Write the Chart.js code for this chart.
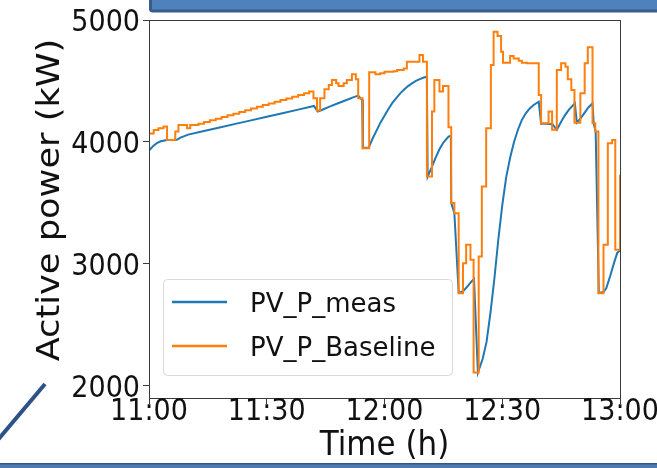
<!DOCTYPE html>
<html>
<head>
<meta charset="utf-8">
<title>PV active power</title>
<script src="https://cdn.jsdelivr.net/npm/chart.js@4.4.1/dist/chart.umd.min.js"></script>
<style>
  html, body { margin: 0; padding: 0; background: #fff; }
  canvas { display: block; }
</style>
</head>
<body>
<canvas id="pvChart" width="657" height="468"></canvas>
<script>
// minutes after 11:00 and power in kW
const measT = [0, 1, 2, 3, 4.6, 7.1, 8, 10, 14, 18, 22, 26, 30, 34, 38, 42, 43, 44, 46, 48, 50, 52, 53.3, 54.3, 54.5,
  56, 57, 58, 59, 60, 61, 62, 63, 64, 65, 66, 67, 68, 69, 70, 70.8, 71, 72, 73, 74, 75, 76.3, 76.9, 77, 77.8, 78.9,
  80, 81, 82, 82.8, 83.8, 85, 86, 87, 88, 89, 90, 91, 92, 93, 94, 95, 96, 97, 98, 99.3, 99.9, 101, 102.8, 103.9,
  105, 106, 107, 108.5, 109, 110, 111, 112, 113, 113.3, 113.8, 114.6, 115.8, 116.5, 117.5, 118.5, 119.3, 120];
const measP = [3930, 3965, 3990, 4005, 4016, 4018, 4035, 4060, 4089, 4119, 4148, 4177, 4206, 4236, 4265, 4295, 4250, 4262, 4290, 4315, 4340, 4365, 4380, 4345, 3950,
  3955, 4030, 4095, 4160, 4215, 4270, 4320, 4360, 4398, 4430, 4458, 4480, 4500, 4515, 4528, 4535, 3716, 3790, 3870, 3940, 3995, 4044, 4050, 3500, 3415, 2762,
  2775, 2810, 2850, 2875, 2110, 2220, 2360, 2600, 2880, 3200, 3480, 3710, 3870, 4000, 4100, 4180, 4235, 4275, 4303, 4330, 4150, 4150, 4145, 4098,
  4165, 4220, 4265, 4317, 4158, 4195, 4240, 4285, 4317, 4150, 4085, 2762, 2770, 2800, 2900, 3010, 3090, 3110];

const baseT = [0, 1.2, 2.4, 3.7, 4.6, 6.7, 7.5, 9.7, 10.5, 12.6, 14, 15.5, 17, 18.5, 20, 21.5, 23, 24.5, 26, 27.5, 29, 30.5,
  32, 33.5, 35, 36.5, 38, 39.5, 40.8, 41.9, 42.8, 43.6, 44.7, 45.8, 46.6, 47.7, 48.3, 49.6, 50.4, 51.7, 52.7, 53.3, 54.4,
  56.1, 57.7, 58.9, 60, 62.3, 63.2, 64.9, 65.7, 68.9, 69.8, 70.8, 72.1, 72.7, 74, 74.9, 76.3, 77, 77.8, 78.9, 80, 80.8,
  81.9, 82.7, 84, 84.8, 85.9, 87.1, 87.8, 88.8, 89.7, 90.2, 92, 92.9, 94.2, 95, 96.3, 99.3, 99.9, 101.8, 102.7, 103.9,
  105, 106.1, 106.7, 107.6, 108.4, 109.9, 111, 111.8, 113, 113.7, 114.5, 115.8, 116.9, 118, 118.8, 120];
const baseP = [4070, 4098, 4112, 4126, 4016, 4085, 4139, 4112, 4139, 4150, 4163, 4177, 4191, 4205, 4218, 4232, 4246, 4260, 4274, 4288, 4302, 4316,
  4329, 4343, 4357, 4371, 4385, 4399, 4413, 4358, 4257, 4358, 4432, 4467, 4508, 4481, 4459, 4481, 4508, 4555, 4514, 4358, 3948,
  4571, 4555, 4563, 4575, 4580, 4590, 4603, 4658, 4713, 4658, 3716, 4249, 4508, 4413, 4459, 4120, 3500, 3415, 2760, 3005, 3156,
  3033, 2110, 3060, 3634, 4112, 4631, 4904, 4869, 4740, 4650, 4705, 4685, 4665, 4650, 4645, 4385, 4153, 4249, 4100, 4590,
  4645, 4617, 4514, 4426, 4158, 4399, 4645, 4776, 4153, 4085, 2760, 3156, 3989, 4016, 3115, 3730];

const xTicks = [0, 30, 60, 90, 120];
const xTickLabels = ["11:00", "11:30", "12:00", "12:30", "13:00"];
const yTicks = [2000, 3000, 4000, 5000];
const xTitle = "Time (h)";
const yTitle = "Active power (kW)";

const toPoints = (ts, ps) => ts.map((t, i) => ({ x: t, y: ps[i] }));

const FONT = "'DejaVu Sans', 'Liberation Sans', sans-serif";
const AXIS_COLOR = "#3a3a3a";
const TEXT_COLOR = "#111";
const STRETCH = 1.1; // the figure's text is a little taller than wide

// draw a string with its glyphs stretched along the page's vertical
function tallText(ctx, text, x, y, align, baseline, rotated) {
  ctx.save();
  ctx.translate(x, y);
  if (rotated) {
    ctx.rotate(-Math.PI / 2);
    ctx.scale(STRETCH, 1);
  } else {
    ctx.scale(1, STRETCH);
  }
  ctx.textAlign = align;
  ctx.textBaseline = baseline;
  ctx.fillText(text, 0, 0);
  ctx.restore();
}

// slide bits around the figure, the axes box, tick labels, titles and the legend
const framePlugin = {
  id: "frame",
  beforeDraw(chart) {
    const ctx = chart.ctx;
    ctx.save();
    ctx.fillStyle = "#fff";
    ctx.fillRect(0, 0, chart.width, chart.height);
    ctx.restore();
  },
  afterDraw(chart) {
    const ctx = chart.ctx;
    const a = chart.chartArea;
    const xs = chart.scales.x;
    const ys = chart.scales.y;
    ctx.save();

    // banner at the top
    ctx.fillStyle = "#4f81bd";
    ctx.fillRect(149, -4, 520, 14);
    ctx.strokeStyle = "#385d8a";
    ctx.lineWidth = 3;
    ctx.beginPath();
    ctx.moveTo(150.5, -4);
    ctx.lineTo(150.5, 9);
    ctx.quadraticCurveTo(150.5, 11, 153, 11);
    ctx.lineTo(660, 11);
    ctx.stroke();

    // strip at the bottom
    ctx.fillStyle = "#4f7bb3";
    ctx.fillRect(0, 463, chart.width, 6);
    ctx.fillStyle = "#34567f";
    ctx.fillRect(0, 463, chart.width, 1.5);

    // connector line bottom left
    ctx.strokeStyle = "#2c5288";
    ctx.lineWidth = 4;
    ctx.beginPath();
    ctx.moveTo(-3, 441);
    ctx.lineTo(45, 384);
    ctx.stroke();

    // axes box
    ctx.strokeStyle = AXIS_COLOR;
    ctx.lineWidth = 1;
    ctx.strokeRect(a.left + 0.5, a.top + 0.5, a.right - a.left, a.bottom - a.top);

    // tick labels
    ctx.fillStyle = TEXT_COLOR;
    ctx.font = "27px " + FONT;
    xTicks.forEach((v, i) => {
      tallText(ctx, xTickLabels[i], xs.getPixelForValue(v), a.bottom + 22, "center", "alphabetic", false);
    });
    yTicks.forEach((v) => {
      tallText(ctx, String(v), a.left - 9, ys.getPixelForValue(v) + 11, "right", "alphabetic", false);
    });

    // axis titles
    ctx.font = "31px " + FONT;
    tallText(ctx, xTitle, (a.left + a.right) / 2, 455, "center", "alphabetic", false);
    ctx.font = "32px " + FONT;
    tallText(ctx, yTitle, 59, 200, "center", "alphabetic", true);

    // legend
    const lx = a.left + 14, ly = a.bottom - 119, lw = 289, lh = 96;
    ctx.fillStyle = "rgba(255,255,255,0.85)";
    ctx.strokeStyle = "#d9d9d9";
    ctx.lineWidth = 1;
    ctx.beginPath();
    ctx.roundRect(lx + 0.5, ly + 0.5, lw, lh, 4);
    ctx.fill();
    ctx.stroke();
    ctx.font = "26px " + FONT;
    ctx.textBaseline = "alphabetic";
    ctx.textAlign = "left";
    chart.data.datasets.forEach((ds, i) => {
      const rowY = ly + 23 + i * 44;
      ctx.strokeStyle = ds.borderColor;
      ctx.lineWidth = 2.5;
      ctx.beginPath();
      ctx.moveTo(lx + 9, rowY);
      ctx.lineTo(lx + 64, rowY);
      ctx.stroke();
      ctx.fillStyle = TEXT_COLOR;
      ctx.fillText(ds.label, lx + 87, rowY + 10);
    });
    ctx.restore();
  }
};

const data = {
  datasets: [
    {
      label: "PV_P_meas",
      data: toPoints(measT, measP),
      borderColor: "#1f77b4",
      borderWidth: 2,
      pointRadius: 0,
      fill: false,
      tension: 0,
      order: 1,
    },
    {
      label: "PV_P_Baseline",
      data: toPoints(baseT, baseP),
      borderColor: "#ff7f0e",
      borderWidth: 2,
      pointRadius: 0,
      fill: false,
      stepped: "before",
      order: 0,
    },
  ],
};

const options = {
  responsive: false,
  devicePixelRatio: 1,
  animation: false,
  layout: { padding: { top: 20, right: 37, bottom: 0, left: 0 } },
  plugins: {
    legend: { display: false },
    tooltip: { enabled: false },
  },
  scales: {
    x: {
      type: "linear",
      min: 0,
      max: 120,
      afterBuildTicks: (scale) => { scale.ticks = xTicks.map((v) => ({ value: v })); },
      afterFit: (scale) => {
        scale.height = 70;
        scale.paddingLeft = 0;
        scale.paddingRight = 0;
      },
      ticks: { display: false },
      grid: { drawOnChartArea: false, drawTicks: true, tickLength: 6, color: AXIS_COLOR },
      border: { display: true, color: AXIS_COLOR, width: 1 },
    },
    y: {
      min: 1900,
      max: 5000,
      afterBuildTicks: (scale) => { scale.ticks = yTicks.map((v) => ({ value: v })); },
      afterFit: (scale) => {
        scale.width = 149;
        scale.paddingTop = 0;
        scale.paddingBottom = 0;
      },
      ticks: { display: false },
      grid: { drawOnChartArea: false, drawTicks: true, tickLength: 6, color: AXIS_COLOR },
      border: { display: true, color: AXIS_COLOR, width: 1 },
    },
  },
};

new Chart(document.getElementById("pvChart"), {
  type: "line",
  data: data,
  options: options,
  plugins: [framePlugin],
});
</script>
</body>
</html>
